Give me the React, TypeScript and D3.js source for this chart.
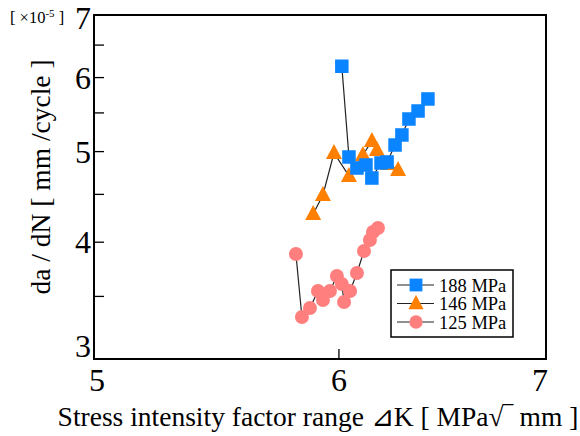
import React from 'react';
import * as d3 from 'd3';

const width = 580;
const height = 436;
const plot = { left: 94, right: 546, top: 15, bottom: 359 };

// stress intensity factor range and crack growth rate (x1e-5) per stress amplitude
const k188 = [6.013, 6.045, 6.081, 6.122, 6.149, 6.191, 6.219, 6.256, 6.288, 6.321, 6.364, 6.411];
const r188 = [6.17, 4.934, 4.802, 4.838, 4.685, 4.862, 4.874, 5.082, 5.209, 5.418, 5.526, 5.692];
const k146 = [5.886, 5.929, 5.978, 6.045, 6.108, 6.149, 6.172, 6.223, 6.27];
const r146 = [4.288, 4.493, 4.983, 4.709, 4.958, 5.132, 5.02, 4.85, 4.779];
const k125 = [5.811, 5.837, 5.872, 5.907, 5.929, 5.96, 5.991, 6.013, 6.023, 6.05, 6.081, 6.113, 6.14, 6.154, 6.177];
const r125 = [3.885, 3.327, 3.401, 3.547, 3.469, 3.547, 3.68, 3.609, 3.452, 3.547, 3.708, 3.914, 4.022, 4.102, 4.142];

const xTicks = [5, 6, 7];
const yTicks = [3, 4, 5, 6, 7];
const yMinor = [3.5, 4.5, 5.5, 6.5];

const series = [
  { name: '188 MPa', k: k188, r: r188, color: '#0a84ff', shape: 'square' },
  { name: '146 MPa', k: k146, r: r146, color: '#ff8000', shape: 'triangle' },
  { name: '125 MPa', k: k125, r: r125, color: '#ff7f7f', shape: 'circle' },
];

const serif = '"Liberation Serif", "Times New Roman", serif';

const Marker = ({ shape, x, y, color, s = 1 }) => {
  if (shape === 'square') {
    const a = 13.5 * s;
    return <rect x={x - a / 2} y={y - a / 2} width={a} height={a} fill={color} />;
  }
  if (shape === 'triangle') {
    const w = 16 * s, h = 15 * s;
    return <path d={`M${x},${y - h * 0.6}L${x + w / 2},${y + h * 0.4}L${x - w / 2},${y + h * 0.4}Z`} fill={color} />;
  }
  return <circle cx={x} cy={y} r={7 * s} fill={color} />;
};

export default function App() {
  const x = d3.scaleLog().domain([5, 7]).range([plot.left, plot.right]);
  const y = d3.scaleLog().domain([3, 7]).range([plot.bottom, plot.top]);
  const line = d3.line<[number, number]>().x(d => x(d[0])).y(d => y(d[1]));
  const drawOrder = [series[2], series[1], series[0]];

  const yLabelDy = { 3: -2, 7: 14 };
  const xLabelDx = { 5: 3, 6: 0, 7: -6 };

  return (
    <svg width={width} height={height} style={{ position: 'absolute', left: 0, top: 0 }}>
      <rect width={width} height={height} fill="#fff" />
      {drawOrder.map(s => (
        <g key={s.name}>
          <path d={line(s.k.map((k, i) => [k, s.r[i]]))} fill="none" stroke="#222" strokeWidth={1.2} />
          {s.k.map((k, i) => (
            <Marker key={i} shape={s.shape} x={x(k)} y={y(s.r[i])} color={s.color} />
          ))}
        </g>
      ))}
      <rect x={plot.left} y={plot.top} width={plot.right - plot.left} height={plot.bottom - plot.top}
        fill="none" stroke="#000" strokeWidth={2} />
      {yTicks.concat(yMinor).map(t => (
        <line key={t} x1={plot.left} x2={plot.left + 10} y1={y(t)} y2={y(t)} stroke="#000" strokeWidth={1.3} />
      ))}
      {yTicks.map(t => (
        <text key={t} x={91} y={y(t) + (yLabelDy[t] ?? 11)} textAnchor="end" fontFamily={serif} fontSize={32}>{t}</text>
      ))}
      <line x1={x(6)} x2={x(6)} y1={plot.bottom} y2={plot.bottom - 10} stroke="#000" strokeWidth={1.3} />
      {xTicks.map(t => (
        <text key={t} x={x(t) + xLabelDx[t]} y={391} textAnchor="middle" fontFamily={serif} fontSize={32}>{t}</text>
      ))}
      <text x={318} y={426} textAnchor="middle" fontFamily={serif} fontSize={27.5}>
        Stress intensity factor range ⊿K [ MPa√‾ mm ]
      </text>
      <text transform="translate(50,177) rotate(-90)" textAnchor="middle" fontFamily={serif} fontSize={27.5}>
        da / dN [ mm /cycle ]
      </text>
      <text x={10} y={23} fontFamily={serif} fontSize={16.5}>
        [ ×10<tspan dy={-6} fontSize={11}>-5</tspan><tspan dy={6}> ]</tspan>
      </text>
      <g>
        <rect x={391} y={270} width={122} height={67} fill="#fff" stroke="#000" strokeWidth={1.5} />
        {series.map((s, i) => {
          const ly = 285 + i * 18.5;
          return (
            <g key={s.name}>
              <line x1={397} x2={434} y1={ly} y2={ly} stroke="#222" strokeWidth={1.2} />
              <Marker shape={s.shape} x={416} y={ly} color={s.color} s={0.95} />
              <text x={439} y={ly + 6.5} fontFamily={serif} fontSize={18.5}>{s.name}</text>
            </g>
          );
        })}
      </g>
    </svg>
  );
}
